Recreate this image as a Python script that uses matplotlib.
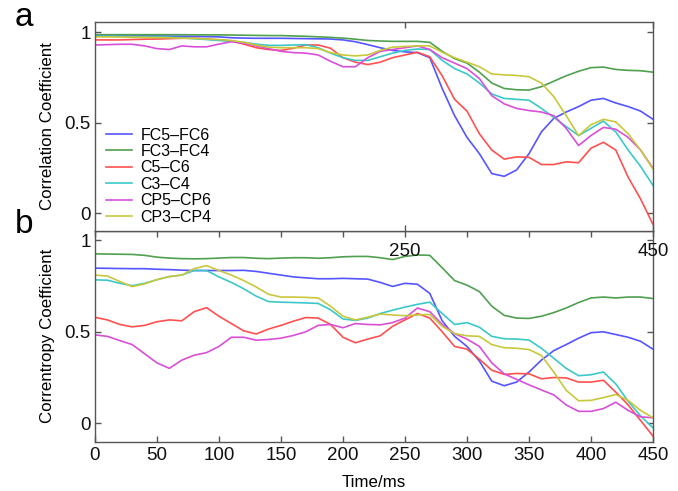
import numpy as np
import matplotlib
matplotlib.use('Agg')
import matplotlib.pyplot as plt

plt.rcParams['font.family'] = ['Liberation Sans', 'DejaVu Sans']

#### time axis (ms), one sample every 10 ms
time_ms = np.arange(0, 451, 10)

pairs = ['FC5\u2013FC6', 'FC3\u2013FC4', 'C5\u2013C6', 'C3\u2013C4', 'CP5\u2013CP6', 'CP3\u2013CP4']
colors = ['#5555ff', '#4fa04f', '#ff5050', '#3cc8c8', '#d850d8', '#c8c83c']

#### panel a: correlation coefficient
corr_fc5_fc6 = [0.98, 0.98, 0.98, 0.98, 0.98, 0.98, 0.979, 0.978, 0.977, 0.976,
                0.975, 0.97, 0.968, 0.967, 0.967, 0.967, 0.966, 0.965, 0.964, 0.963,
                0.958, 0.948, 0.932, 0.915, 0.9, 0.892, 0.888, 0.86, 0.69, 0.54,
                0.42, 0.33, 0.22, 0.205, 0.24, 0.33, 0.45, 0.525, 0.56, 0.59,
                0.625, 0.635, 0.61, 0.59, 0.565, 0.52]
corr_fc3_fc4 = [0.987, 0.987, 0.987, 0.987, 0.987, 0.987, 0.987, 0.987, 0.986, 0.986,
                0.986, 0.985, 0.984, 0.983, 0.982, 0.982, 0.98, 0.978, 0.975, 0.972,
                0.968, 0.962, 0.955, 0.952, 0.95, 0.95, 0.95, 0.945, 0.895, 0.855,
                0.83, 0.78, 0.72, 0.69, 0.683, 0.681, 0.7, 0.73, 0.76, 0.785,
                0.805, 0.808, 0.795, 0.79, 0.788, 0.78]
corr_c5_c6 = [0.958, 0.958, 0.958, 0.96, 0.962, 0.963, 0.965, 0.967, 0.967, 0.963,
              0.958, 0.952, 0.935, 0.915, 0.905, 0.9, 0.912, 0.93, 0.93, 0.912,
              0.86, 0.835, 0.822, 0.835, 0.86, 0.875, 0.89, 0.865, 0.76, 0.63,
              0.565, 0.44, 0.35, 0.3, 0.312, 0.31, 0.27, 0.27, 0.285, 0.28,
              0.36, 0.393, 0.35, 0.2, 0.08, -0.06]
corr_c3_c4 = [0.978, 0.978, 0.977, 0.976, 0.975, 0.975, 0.973, 0.97, 0.965, 0.96,
              0.955, 0.95, 0.945, 0.935, 0.928, 0.928, 0.93, 0.932, 0.915, 0.885,
              0.86, 0.845, 0.845, 0.865, 0.885, 0.9, 0.908, 0.905, 0.845, 0.8,
              0.77, 0.72, 0.66, 0.635, 0.63, 0.625, 0.58, 0.53, 0.48, 0.43,
              0.47, 0.51, 0.45, 0.35, 0.26, 0.155]
corr_cp5_cp6 = [0.93, 0.932, 0.934, 0.934, 0.925, 0.91, 0.905, 0.925, 0.92, 0.92,
                0.935, 0.948, 0.94, 0.925, 0.91, 0.895, 0.888, 0.885, 0.875, 0.84,
                0.81, 0.81, 0.86, 0.895, 0.905, 0.915, 0.925, 0.905, 0.86, 0.83,
                0.8, 0.745, 0.65, 0.605, 0.58, 0.568, 0.56, 0.54, 0.47, 0.375,
                0.43, 0.475, 0.465, 0.42, 0.35, 0.25]
corr_cp3_cp4 = [0.975, 0.975, 0.974, 0.973, 0.972, 0.971, 0.97, 0.968, 0.966, 0.963,
                0.96, 0.955, 0.945, 0.93, 0.918, 0.915, 0.915, 0.915, 0.91, 0.888,
                0.875, 0.87, 0.875, 0.9, 0.918, 0.922, 0.925, 0.925, 0.89, 0.86,
                0.835, 0.81, 0.77, 0.765, 0.762, 0.755, 0.72, 0.645, 0.54, 0.43,
                0.49, 0.52, 0.505, 0.44, 0.35, 0.245]

#### panel b: correntropy coefficient
cent_fc5_fc6 = [0.848, 0.847, 0.846, 0.845, 0.845, 0.842, 0.84, 0.837, 0.835, 0.835,
                0.835, 0.835, 0.836, 0.83, 0.82, 0.81, 0.8, 0.795, 0.79, 0.79,
                0.792, 0.79, 0.788, 0.77, 0.748, 0.765, 0.76, 0.71, 0.56, 0.475,
                0.42, 0.34, 0.23, 0.205, 0.225, 0.28, 0.345, 0.397, 0.43, 0.465,
                0.495, 0.5, 0.485, 0.47, 0.448, 0.405]
cent_fc3_fc4 = [0.926, 0.925, 0.924, 0.923, 0.918, 0.908, 0.903, 0.9, 0.899, 0.9,
                0.903, 0.906, 0.906, 0.902, 0.9, 0.903, 0.905, 0.905, 0.902, 0.905,
                0.91, 0.912, 0.912, 0.905, 0.895, 0.912, 0.92, 0.918, 0.85, 0.78,
                0.755, 0.72, 0.64, 0.59, 0.575, 0.573, 0.585, 0.605, 0.63, 0.66,
                0.685, 0.69, 0.685, 0.69, 0.69, 0.682]
cent_c5_c6 = [0.579, 0.565, 0.54, 0.527, 0.535, 0.555, 0.565, 0.56, 0.61, 0.632,
              0.585, 0.545, 0.505, 0.488, 0.515, 0.535, 0.558, 0.578, 0.575, 0.54,
              0.47, 0.44, 0.46, 0.478, 0.53, 0.565, 0.6, 0.575, 0.5, 0.42,
              0.405, 0.35, 0.29, 0.267, 0.272, 0.27, 0.243, 0.25, 0.248, 0.225,
              0.225, 0.235, 0.17, 0.1, 0.015, -0.07]
cent_c3_c4 = [0.784, 0.782, 0.765, 0.752, 0.765, 0.785, 0.802, 0.81, 0.835, 0.835,
              0.8, 0.77, 0.735, 0.695, 0.665, 0.662, 0.66, 0.658, 0.655, 0.62,
              0.57, 0.562, 0.575, 0.6, 0.618, 0.635, 0.65, 0.662, 0.6, 0.54,
              0.55, 0.525, 0.475, 0.462, 0.46, 0.455, 0.41, 0.355, 0.3, 0.26,
              0.265, 0.28, 0.215, 0.12, 0.04, -0.025]
cent_cp5_cp6 = [0.483, 0.475, 0.452, 0.43, 0.38, 0.33, 0.3, 0.345, 0.372, 0.386,
                0.42, 0.47, 0.47, 0.454, 0.458, 0.465, 0.48, 0.5, 0.535, 0.54,
                0.522, 0.545, 0.54, 0.538, 0.55, 0.575, 0.63, 0.61, 0.54, 0.49,
                0.46, 0.42, 0.33, 0.27, 0.24, 0.21, 0.182, 0.155, 0.1, 0.065,
                0.065, 0.08, 0.115, 0.07, 0.035, 0.03]
cent_cp3_cp4 = [0.81, 0.805, 0.775, 0.747, 0.762, 0.785, 0.802, 0.81, 0.845, 0.862,
                0.835, 0.81, 0.78, 0.745, 0.705, 0.69, 0.69, 0.688, 0.685, 0.64,
                0.585, 0.565, 0.58, 0.597, 0.592, 0.588, 0.592, 0.595, 0.53, 0.49,
                0.478, 0.475, 0.43, 0.413, 0.41, 0.403, 0.37, 0.28, 0.18, 0.123,
                0.125, 0.14, 0.157, 0.125, 0.07, 0.03]

corr_all = [corr_fc5_fc6, corr_fc3_fc4, corr_c5_c6, corr_c3_c4, corr_cp5_cp6, corr_cp3_cp4]
cent_all = [cent_fc5_fc6, cent_fc3_fc4, cent_c5_c6, cent_c3_c4, cent_cp5_cp6, cent_cp3_cp4]

fig = plt.figure(figsize=(6.78, 4.91), dpi=100)
ax_b = fig.add_axes([0.1401, 0.1004, 0.823, 0.4291])
ax_a = fig.add_axes([0.1401, 0.5295, 0.823, 0.4257], zorder=3)

for vals, col, lab in zip(corr_all, colors, pairs):
    ax_a.plot(time_ms, vals, color=col, lw=1.2, label=lab)
for vals, col in zip(cent_all, colors):
    ax_b.plot(time_ms, vals, color=col, lw=1.2)

spine_col = '#555555'
for ax in (ax_a, ax_b):
    ax.set_xlim(0, 450)
    ax.set_yticks([0, 0.5, 1])
    ax.set_yticklabels(['0', '0.5', '1'])
    for sp in ax.spines.values():
        sp.set_color(spine_col)
        sp.set_linewidth(1.0)
    ax.tick_params(direction='in', length=4, width=1, color=spine_col,
                   left=True, right=True, top=True, bottom=True,
                   labelsize=13.5, labelcolor='#111111')

ax_a.set_ylim(-0.097, 1.057)
ax_b.set_ylim(-0.101, 1.051)

# panel a only marks 250 and 450; labels spill down into panel b
ax_a.set_xticks([250, 450])
ax_a.tick_params(axis='x', labelbottom=True, pad=8.5)
ax_a.tick_params(axis='y', pad=3)

ax_b.set_xticks(np.arange(0, 451, 50))
ax_b.tick_params(axis='x', pad=3.5)
ax_b.tick_params(axis='y', pad=3)

ax_a.set_ylabel('Correlation Coefficient', fontsize=12.2, labelpad=7)
ax_b.set_ylabel('Correntropy Coefficient', fontsize=12.2, labelpad=7)
ax_b.set_xlabel('Time/ms', fontsize=12.2, labelpad=8)

ax_a.legend(loc='lower left', bbox_to_anchor=(0.02, 0.03), frameon=False,
            fontsize=11.5, handlelength=1.6, handletextpad=0.55,
            labelspacing=0.09, borderpad=0, borderaxespad=0)

fig.text(0.022, 0.947, 'a', fontsize=24, ha='left', va='baseline')
fig.text(0.022, 0.5255, 'b', fontsize=24, ha='left', va='baseline')

plt.savefig('out.png', dpi=100)
